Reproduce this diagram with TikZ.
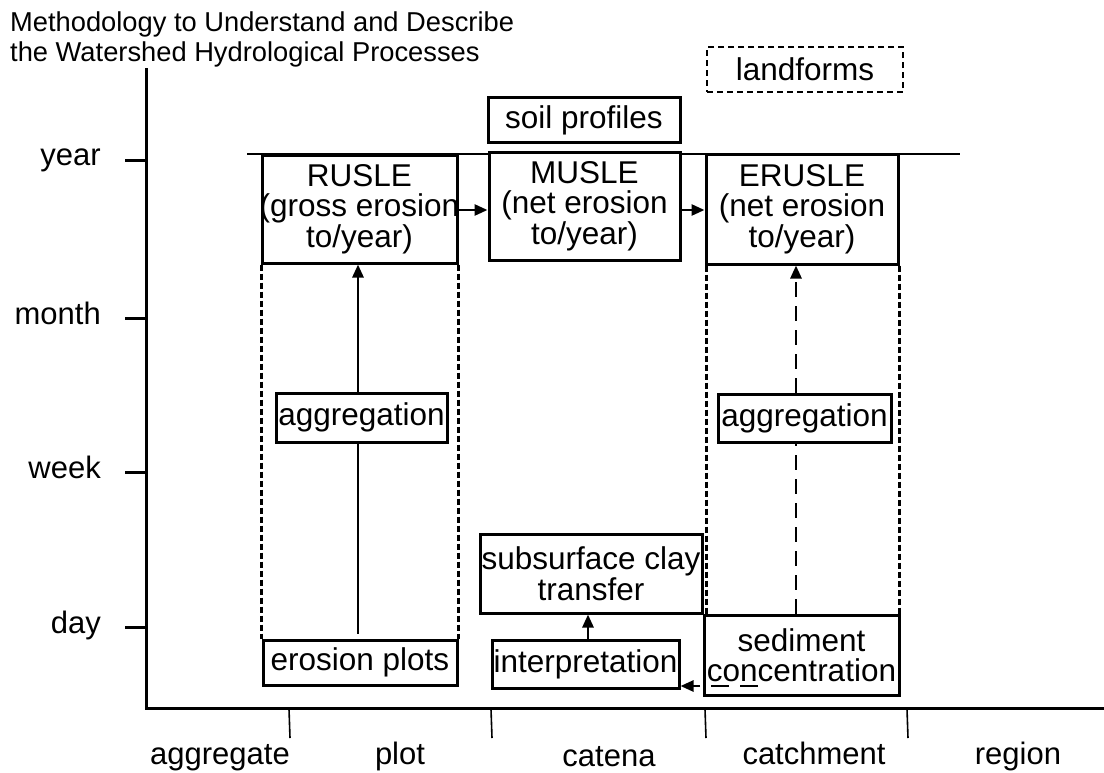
\documentclass[tikz,border=0pt]{standalone}
\usepackage{fontspec}
\setmainfont{Liberation Sans}
\usetikzlibrary{arrows.meta,calc}
\newcommand{\txtfont}{\fontsize{31.5}{30.5}\selectfont}
\newcommand{\lblfont}{\fontsize{31}{31}\selectfont}
\newcommand{\ttlfont}{\fontsize{27.3}{29}\selectfont}
\begin{document}
\begin{tikzpicture}[x=1pt,y=-1pt,
  box/.style={draw,line width=3pt,inner sep=0pt,align=center,font=\txtfont,fill=white},
  dbox/.style={box,dash pattern=on 6pt off 4pt,line width=2.6pt},
  lbl/.style={inner sep=0pt,font=\lblfont},
  ttl/.style={inner sep=0pt,font=\ttlfont,anchor=base west},
  axisln/.style={line width=3pt},
  tickln/.style={line width=3pt},
  btick/.style={line width=1.6pt},
  yearln/.style={line width=2.2pt},
  dotln/.style={line width=2.3pt,dash pattern=on 6pt off 3pt},
  ln/.style={line width=2.7pt},
  arr/.style={line width=2.7pt,-{Triangle[length=13pt,width=11pt]}},
  dashln/.style={line width=2.7pt,dash pattern=on 15pt off 9pt},
  dasharr/.style={dashln,-{Triangle[length=13pt,width=11pt]}},
  sdash/.style={line width=2.6pt,dash pattern=on 18pt off 11pt,-{Triangle[length=13pt,width=11pt]}}
]
\useasboundingbox (0,0) rectangle (1104,772);

% title
\node[ttl] (t1) at (10,31) {Methodology to Understand and Describe};
\node[ttl] (t2) at (10,61) {the Watershed Hydrological Processes};

% axes
\draw[axisln] (146,68) -- (146,708) -- (1104,708);
% left ticks and labels
\draw[tickln] (125,160) -- (146,160);
\draw[tickln] (125,318) -- (146,318);
\draw[tickln] (125,472) -- (146,472);
\draw[tickln] (125,627) -- (146,627);
\node[lbl,anchor=base east] (lyear) at (101,165) {year};
\node[lbl,anchor=base east] (lmonth) at (101,324) {month};
\node[lbl,anchor=base east] (lweek) at (101,478) {week};
\node[lbl,anchor=base east] (lday) at (101,633) {day};
% bottom ticks and labels
\draw[btick] (289,709) -- (290,738);
\draw[btick] (491,709) -- (492,738);
\draw[btick] (705,709) -- (706,738);
\draw[btick] (907,709) -- (908,738);
\node[lbl,anchor=base] (bagg) at (220,764) {aggregate};
\node[lbl,anchor=base] (bplot) at (400,764) {plot};
\node[lbl,anchor=base] (bcat) at (609,766) {catena};
\node[lbl,anchor=base] (bcatch) at (814,764) {catchment};
\node[lbl,anchor=base] (breg) at (1018,764) {region};

% year line
\draw[yearln] (247,154) -- (960,154);

% boxes
\node[box,minimum width=195pt,minimum height=108pt] (rusle) at (359.5,209) {RUSLE\\\makebox[180pt]{(gross erosion}\\to/year)};
\node[box,minimum width=191pt,minimum height=108pt] (musle) at (584.5,206) {MUSLE\\(net erosion\\to/year)};
\node[box,minimum width=192pt,minimum height=110pt] (erusle) at (802,209) {ERUSLE\\(net erosion\\to/year)};
\node[box,minimum width=192pt,minimum height=45pt] (soil) at (584,120) {soil profiles};
\node[dbox,minimum width=196pt,minimum height=45pt] (land) at (805,69.5) {landforms};
\node[box,minimum width=171pt,minimum height=49pt] (agg1) at (361.5,417.5) {aggregation};
\node[box,minimum width=173pt,minimum height=48pt] (agg2) at (804.5,418) {aggregation};
\node[box,minimum width=194pt,minimum height=45pt] (eplots) at (360,662.5) {erosion plots};
\node[box,minimum width=187pt,minimum height=48pt] (interp) at (585.5,664) {interpretation};
\node[box,minimum width=222pt,minimum height=79pt] (clay) at (591,573.5) {subsurface clay\\transfer};
\node[box,minimum width=195pt,minimum height=80pt] (sed) at (801.5,655) {sediment\\concentration};

% dotted column borders
\draw[dotln] ($(rusle.south west)+(1,0)$) -- ($(rusle.south west |- eplots.north)+(1,0)$);
\draw[dotln] (rusle.south east) -- (rusle.south east |- eplots.north);
\draw[dotln] ($(erusle.south west)+(2,0)$) -- ($(erusle.south west |- sed.north)+(2,0)$);
\draw[dotln] (erusle.south east) -- (erusle.south east |- sed.north);

% connectors
\coordinate (la) at (358,0);
\coordinate (ra) at (796,0);
\coordinate (ia) at (588,0);
\coordinate (sd) at (758,686);
\draw[arr] (rusle.east |- 0,210) -- (musle.west |- 0,210);
\draw[arr] (musle.east |- 0,210) -- (erusle.west |- 0,210);
\draw[ln] ($(eplots.north -| la)+(0,-5)$) -- (agg1.south -| la);
\draw[arr] (agg1.north -| la) -- (rusle.south -| la);
\draw[dashln] (sed.north -| ra) -- (agg2.south -| ra);
\draw[dasharr] (agg2.north -| ra) -- (erusle.south -| ra);
\draw[arr] (interp.north -| ia) -- (clay.south -| ia);
\draw[sdash] (sd) -- (interp.east |- sd);
\end{tikzpicture}
\end{document}
